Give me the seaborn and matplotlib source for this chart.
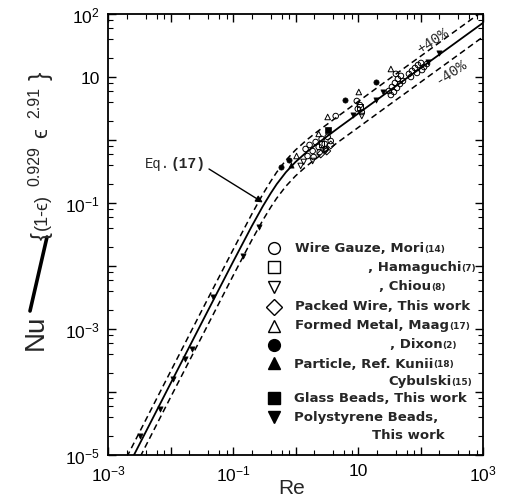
import matplotlib
matplotlib.use("Agg")
import matplotlib.pyplot as plt
from matplotlib.lines import Line2D
import seaborn as sns
import pandas as pd
from matplotlib.ticker import FixedLocator, LogLocator, NullFormatter, FixedFormatter

# ---------------- data ----------------
# Eq.(17) correlation curve and the +-40 % band lines
Re_eq = [0.002, 0.01, 0.03, 0.1, 0.2, 0.3, 0.4, 0.5, 0.7, 1.0, 1.5, 2.0, 3.0, 5.0,
         10.0, 30.0, 100.0, 300.0, 1000.0]
Nu_eq = [6.0e-6, 1.36e-4, 1.14e-3, 0.0116, 0.0430, 0.0888, 0.142, 0.199, 0.307, 0.448,
         0.641, 0.805, 1.09, 1.59, 2.62, 5.80, 13.8, 30.4, 72.3]
Nu_up = [9.3e-6, 2.11e-4, 1.77e-3, 0.0180, 0.0667, 0.138, 0.220, 0.308, 0.476, 0.694,
         0.994, 1.25, 1.69, 2.46, 4.06, 8.99, 21.3, 47.1, 112.0]
Nu_lo = [3.6e-6, 8.2e-5, 6.8e-4, 0.00697, 0.0258, 0.0533, 0.0852, 0.119, 0.184, 0.269,
         0.385, 0.483, 0.656, 0.953, 1.57, 3.48, 8.26, 18.2, 43.4]

# Wire Gauze, Mori
mori_re = [1.45, 1.68, 1.88, 2.10, 2.35, 2.62, 2.93, 3.27, 3.66, 1.56, 1.95, 2.44, 3.04,
           4.40, 9.57, 10.7, 9.93, 11.5, 31.2, 34.9, 39.0, 43.5, 48.6, 33.6, 37.6, 42.0,
           46.9, 52.4, 40.4, 65.3, 73.1, 81.7, 91.2, 102, 114, 127, 70.4, 87.9, 106]
mori_nu = [0.72, 0.834, 0.669, 0.929, 0.774, 1.04, 0.865, 1.12, 0.964, 0.557, 0.537, 0.645,
           0.72, 2.40, 4.16, 3.59, 3.11, 2.78, 6.0, 6.94, 8.04, 9.3, 10.4, 5.18, 5.78, 6.69,
           7.75, 8.64, 11.2, 11.2, 12.5, 13.9, 15.5, 16.7, 14.4, 16.1, 10.0, 11.6, 12.9]
# Hamaguchi
hama_re = [2.62, 10.7]
hama_nu = [0.865, 3.34]
# Chiou
chiou_re = [1.21, 1.35, 1.88, 11.5, 3.04]
chiou_nu = [0.387, 0.448, 0.464, 2.40, 0.669]
# Packed Wire, This work
packed_re = [2.53, 3.16, 3.66]
packed_nu = [0.60, 0.669, 0.834]
# Formed Metal, Maag
maag_re = [3.27, 10.3, 33.6, 1.04, 2.35]
maag_nu = [2.32, 5.78, 13.4, 0.557, 1.25]
# Dixon
dixon_re = [6.14, 19.3, 0.774, 0.577]
dixon_nu = [4.31, 8.34, 0.482, 0.373]
# Particle, Kunii / Cybulski
kunii_re = [0.834]
kunii_nu = [0.401]
# Glass Beads, This work
glass_re = [3.27]
glass_nu = [1.44]
# Polystyrene Beads, This work
poly_re = [0.256, 0.147, 0.0484, 0.0223, 0.0172, 0.011, 0.00684, 0.00327,
           8.26, 25.0, 132, 198, 19.3]
poly_nu = [0.0416, 0.0144, 3.22e-3, 4.82e-4, 3.34e-4, 1.61e-4, 5.37e-5, 2.0e-5,
           2.49, 5.78, 17.3, 24.0, 4.31]

x_ticks = [1e-3, 1e-2, 1e-1, 1, 10, 100, 1000]
x_labels = [r"$10^{-3}$", "", r"$10^{-1}$", "", "10", "", r"$10^{3}$"]
y_ticks = [1e-5, 1e-4, 1e-3, 1e-2, 1e-1, 1, 10, 100]
y_labels = [r"$10^{-5}$", "", r"$10^{-3}$", "", r"$10^{-1}$", "", "10", r"$10^{2}$"]

# ---------------- style ----------------
sns.set_theme(style="ticks")
plt.rcParams["font.family"] = ["Liberation Sans", "DejaVu Sans"]
plt.rcParams["mathtext.fontset"] = "custom"
plt.rcParams["mathtext.rm"] = "Liberation Sans"
plt.rcParams["mathtext.it"] = "Liberation Sans:italic"
plt.rcParams["mathtext.bf"] = "Liberation Sans:bold"

W, H = 509, 502
fig = plt.figure(figsize=(W / 100, H / 100), dpi=100)
fig.patch.set_facecolor("white")
L, R, T, B = 108, 483, 15, 456
ax = fig.add_axes([L / W, 1 - B / H, (R - L) / W, (B - T) / H])
ax.set_facecolor("white")
ax.set_xscale("log")
ax.set_yscale("log")

def fx(x):
    return x / W

def fy(y):
    return 1 - y / H

def axf(x, y):
    return ((x - L) / (R - L), (B - y) / (B - T))

# lines
curve = pd.DataFrame({"Re": Re_eq, "eq": Nu_eq, "up": Nu_up, "lo": Nu_lo})
sns.lineplot(data=curve, x="Re", y="eq", ax=ax, color="black", lw=1.3,
             estimator=None, sort=False)
for col in ["up", "lo"]:
    sns.lineplot(data=curve, x="Re", y=col, ax=ax, color="black", lw=1.1,
                 estimator=None, sort=False, dashes=False, linestyle=(0, (4, 2.5)))

# scatter series
open_kw = dict(color="none", edgecolor="black", linewidth=0.7, s=16, zorder=3)
fill_kw = dict(color="black", edgecolor="black", linewidth=0.5, s=14, zorder=3)
sns.scatterplot(x=mori_re, y=mori_nu, marker="o", ax=ax, **open_kw)
sns.scatterplot(x=hama_re, y=hama_nu, marker="s", ax=ax, **open_kw)
sns.scatterplot(x=chiou_re, y=chiou_nu, marker="v", ax=ax, **open_kw)
sns.scatterplot(x=packed_re, y=packed_nu, marker="D", ax=ax, **open_kw)
sns.scatterplot(x=maag_re, y=maag_nu, marker="^", ax=ax, **open_kw)
sns.scatterplot(x=dixon_re, y=dixon_nu, marker="o", ax=ax, **fill_kw)
sns.scatterplot(x=kunii_re, y=kunii_nu, marker="^", ax=ax, **fill_kw)
sns.scatterplot(x=glass_re, y=glass_nu, marker="s", ax=ax, **fill_kw)
sns.scatterplot(x=poly_re, y=poly_nu, marker="v", ax=ax, **fill_kw)

ax.set_xlim(1e-3, 1e3)
ax.set_ylim(1e-5, 1e2)

# ticks
ax.xaxis.set_major_locator(FixedLocator(x_ticks))
ax.xaxis.set_major_formatter(FixedFormatter(x_labels))
ax.yaxis.set_major_locator(FixedLocator(y_ticks))
ax.yaxis.set_major_formatter(FixedFormatter(y_labels))
ax.xaxis.set_minor_locator(LogLocator(base=10, subs=(2, 4, 6, 8), numticks=20))
ax.yaxis.set_minor_locator(LogLocator(base=10, subs=(2, 4, 6, 8), numticks=20))
ax.xaxis.set_minor_formatter(NullFormatter())
ax.yaxis.set_minor_formatter(NullFormatter())
ax.tick_params(which="both", direction="in", top=True, right=True, colors="black",
               labelsize=12.5)
ax.tick_params(which="major", length=6, width=1.0, pad=6)
ax.tick_params(which="minor", length=3.5, width=0.8)
for sp in ax.spines.values():
    sp.set_color("black")
    sp.set_linewidth(1.3)
ax.set_xlabel("")
ax.set_ylabel("")

# axis titles
fig.text(fx(292), fy(489), "Re", fontsize=15, ha="center", va="center")
fig.text(fx(36), fy(332), "Nu", fontsize=20, rotation=90, ha="center", va="center")
fig.add_artist(Line2D([fx(30), fx(47)], [fy(312), fy(238)], color="black", lw=2.6,
                      transform=fig.transFigure))

def vpiece(xb, ys, s, size):
    fig.text(fx(xb), fy(ys), s, fontsize=size, rotation=90, rotation_mode="anchor",
             ha="left", va="baseline")

eps = "\u03f5"
vpiece(48, 240, "{", 17)
vpiece(47, 230, "(1-" + eps + ")", 13)
vpiece(39, 186, "0.929", 11.5)
vpiece(47, 138, eps, 16)
vpiece(39, 118, "2.91", 11.5)
vpiece(48, 80, "}", 18)

# Eq.(17) label and arrow
eq = fig.text(fx(145), fy(164), "Eq.", fontsize=10, family="Liberation Mono",
              ha="left", va="center")
ax.annotate("(17)", xy=(1, 0), xycoords=eq, ha="left", va="bottom", fontsize=10.5,
            family="Liberation Mono", weight="bold")
ax.annotate("", xy=(Re_eq[5], Nu_eq[5] * 1.15), xycoords="data",
            xytext=(fx(209), fy(170)), textcoords="figure fraction",
            arrowprops=dict(arrowstyle="-|>", color="black", lw=1.0, mutation_scale=10,
                            shrinkA=0, shrinkB=0))

# +-40 % labels
fig.text(fx(433), fy(41), "+40%", fontsize=10.5, family="Liberation Mono", rotation=33,
         ha="center", va="center")
fig.text(fx(451), fy(72), "-40%", fontsize=10.5, family="Liberation Mono", rotation=33,
         ha="center", va="center")

# custom legend
leg_markers = [(249, "o", "white"), (268, "s", "white"), (288, "v", "white"),
               (308, "D", "white"), (327, "^", "white"), (346, "o", "black"),
               (364, "^", "black"), (399, "s", "black"), (418, "v", "black")]
for y, m, fc in leg_markers:
    xa, ya = axf(274, y)
    ms = 8.5 if m != "D" else 8
    ax.plot([xa], [ya], marker=m, ms=ms, mfc=fc, mec="black", mew=1.0,
            transform=ax.transAxes, clip_on=False, linestyle="none")

LEG_FONT = ["DejaVu Sans"]

def rich(x, y, parts):
    prev = fig.text(fx(x), fy(y), parts[0], fontsize=9.5, weight="bold",
                    family=LEG_FONT, ha="left", va="center")
    for i, p in enumerate(parts[1:]):
        small = (i % 2 == 0)
        prev = ax.annotate(p, xy=(1, 0.12 if small else 0), xycoords=prev,
                           ha="left", va="bottom", fontsize=6.5 if small else 9.5,
                           weight="bold", family=LEG_FONT)

rich(295, 249, ["Wire Gauze, Mori", "(14)"])
rich(368, 268, [", Hamaguchi", "(7)"])
rich(379, 287, [", Chiou", "(8)"])
rich(295, 307, ["Packed Wire, This work"])
rich(295, 326, ["Formed Metal, Maag", "(17)"])
rich(390, 345, [", Dixon", "(2)"])
rich(294, 364, ["Particle, Ref. Kunii", "(18)"])
rich(388, 382, ["Cybulski", "(15)"])
rich(294, 399, ["Glass Beads, This work"])
rich(294, 418, ["Polystyrene Beads,"])
rich(372, 436, ["This work"])

fig.savefig("out.png", dpi=100, facecolor="white")
